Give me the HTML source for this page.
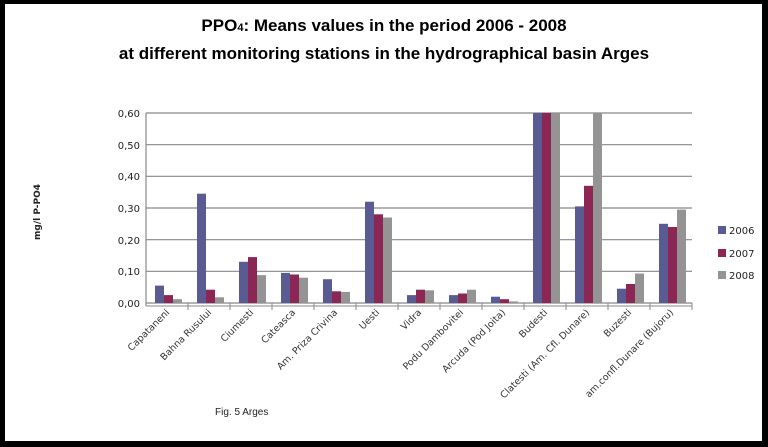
<!DOCTYPE html><html><head><style>body{margin:0;background:#000}svg{display:block}</style></head><body>
<svg width="768" height="447" xmlns="http://www.w3.org/2000/svg" font-family="DejaVu Sans, Liberation Sans, sans-serif">
<rect x="0" y="0" width="768" height="447" fill="#000"/>
<rect x="5" y="4" width="757" height="437" fill="#fff"/>
<text x="384" y="31" text-anchor="middle" style="font-family:'Liberation Sans',sans-serif" font-weight="bold" font-size="17">PPO<tspan font-size="11">4</tspan>: Means values in the period  2006 - 2008</text>
<text x="384" y="59" text-anchor="middle" style="font-family:'Liberation Sans',sans-serif" font-weight="bold" font-size="17">at different monitoring stations in the hydrographical basin Arges</text>
<g stroke="#888" stroke-width="1.2">
<line x1="146" y1="303" x2="692" y2="303"/><line x1="146" y1="271.3" x2="692" y2="271.3"/><line x1="146" y1="239.7" x2="692" y2="239.7"/><line x1="146" y1="208" x2="692" y2="208"/><line x1="146" y1="176.3" x2="692" y2="176.3"/><line x1="146" y1="144.7" x2="692" y2="144.7"/><line x1="146" y1="113" x2="692" y2="113"/>
<line x1="146" y1="113" x2="146" y2="306"/>
</g>
<g font-size="10" fill="#222" text-anchor="end">
<text x="140" y="307">0,00</text><text x="140" y="275">0,10</text><text x="140" y="244">0,20</text><text x="140" y="212">0,30</text><text x="140" y="180">0,40</text><text x="140" y="149">0,50</text><text x="140" y="117">0,60</text>
</g>
<g fill="#5b5b94">
<rect x="155" y="285.6" width="9" height="17.4"/><rect x="197" y="193.7" width="9" height="109.3"/><rect x="239" y="261.8" width="9" height="41.2"/><rect x="281" y="272.9" width="9" height="30.1"/><rect x="323" y="279.2" width="9" height="23.8"/><rect x="365" y="201.7" width="9" height="101.3"/><rect x="407" y="295.1" width="9" height="7.9"/><rect x="449" y="295.1" width="9" height="7.9"/><rect x="491" y="296.7" width="9" height="6.3"/><rect x="533" y="113" width="9" height="190"/><rect x="575" y="206.4" width="9" height="96.6"/><rect x="617" y="288.7" width="9" height="14.3"/><rect x="659" y="223.8" width="9" height="79.2"/>
</g>
<g fill="#8c2655">
<rect x="164" y="295.1" width="9" height="7.9"/><rect x="206" y="289.7" width="9" height="13.3"/><rect x="248" y="257.1" width="9" height="45.9"/><rect x="290" y="274.5" width="9" height="28.5"/><rect x="332" y="291.3" width="9" height="11.7"/><rect x="374" y="214.3" width="9" height="88.7"/><rect x="416" y="289.7" width="9" height="13.3"/><rect x="458" y="293.5" width="9" height="9.5"/><rect x="500" y="299.2" width="9" height="3.8"/><rect x="542" y="113" width="9" height="190"/><rect x="584" y="185.8" width="9" height="117.2"/><rect x="626" y="284" width="9" height="19"/><rect x="668" y="227" width="9" height="76"/>
</g>
<g fill="#949494">
<rect x="173" y="299.2" width="9" height="3.8"/><rect x="215" y="297.3" width="9" height="5.7"/><rect x="257" y="275.1" width="9" height="27.9"/><rect x="299" y="277.7" width="9" height="25.3"/><rect x="341" y="291.9" width="9" height="11.1"/><rect x="383" y="217.5" width="9" height="85.5"/><rect x="425" y="290.3" width="9" height="12.7"/><rect x="467" y="289.7" width="9" height="13.3"/><rect x="509" y="301.4" width="9" height="1.6"/><rect x="551" y="113" width="9" height="190"/><rect x="593" y="113" width="9" height="190"/><rect x="635" y="273.5" width="9" height="29.5"/><rect x="677" y="209.6" width="9" height="93.4"/>
</g>
<g stroke="#888">
<line x1="146" y1="306" x2="692" y2="306"/>
<line x1="188" y1="303" x2="188" y2="310"/><line x1="230" y1="303" x2="230" y2="310"/><line x1="272" y1="303" x2="272" y2="310"/><line x1="314" y1="303" x2="314" y2="310"/><line x1="356" y1="303" x2="356" y2="310"/><line x1="398" y1="303" x2="398" y2="310"/><line x1="440" y1="303" x2="440" y2="310"/><line x1="482" y1="303" x2="482" y2="310"/><line x1="524" y1="303" x2="524" y2="310"/><line x1="566" y1="303" x2="566" y2="310"/><line x1="608" y1="303" x2="608" y2="310"/><line x1="650" y1="303" x2="650" y2="310"/><line x1="692" y1="303" x2="692" y2="310"/>
</g>
<g font-size="9.5" fill="#333" text-anchor="end">
<text transform="translate(170,313) rotate(-45)">Capataneni</text>
<text transform="translate(212,313) rotate(-45)">Bahna Rusului</text>
<text transform="translate(254,313) rotate(-45)">Ciumesti</text>
<text transform="translate(296,313) rotate(-45)">Cateasca</text>
<text transform="translate(338,313) rotate(-45)">Am. Priza Crivina</text>
<text transform="translate(380,313) rotate(-45)">Uesti</text>
<text transform="translate(422,313) rotate(-45)">Vidra</text>
<text transform="translate(464,313) rotate(-45)">Podu Dambovitei</text>
<text transform="translate(506,313) rotate(-45)">Arcuda (Pod Joita)</text>
<text transform="translate(548,313) rotate(-45)">Budesti</text>
<text transform="translate(590,313) rotate(-45)">Clatesti (Am. Cfl. Dunare)</text>
<text transform="translate(632,313) rotate(-45)">Buzesti</text>
<text transform="translate(674,313) rotate(-45)">am.confl.Dunare (Bujoru)</text>
</g>
<text transform="translate(40,212) rotate(-90)" text-anchor="middle" font-size="9" font-weight="bold" fill="#222">mg/l P-PO4</text>
<text x="215" y="415" style="font-family:'Liberation Sans',sans-serif" font-size="10" fill="#222">Fig. 5 Arges</text>
<rect x="718" y="226" width="8" height="8" fill="#5b5b94"/><text x="729" y="234" font-size="10" fill="#222">2006</text>
<rect x="718" y="249" width="8" height="8" fill="#8c2655"/><text x="729" y="257" font-size="10" fill="#222">2007</text>
<rect x="718" y="271" width="8" height="8" fill="#949494"/><text x="729" y="279" font-size="10" fill="#222">2008</text>
</svg></body></html>
